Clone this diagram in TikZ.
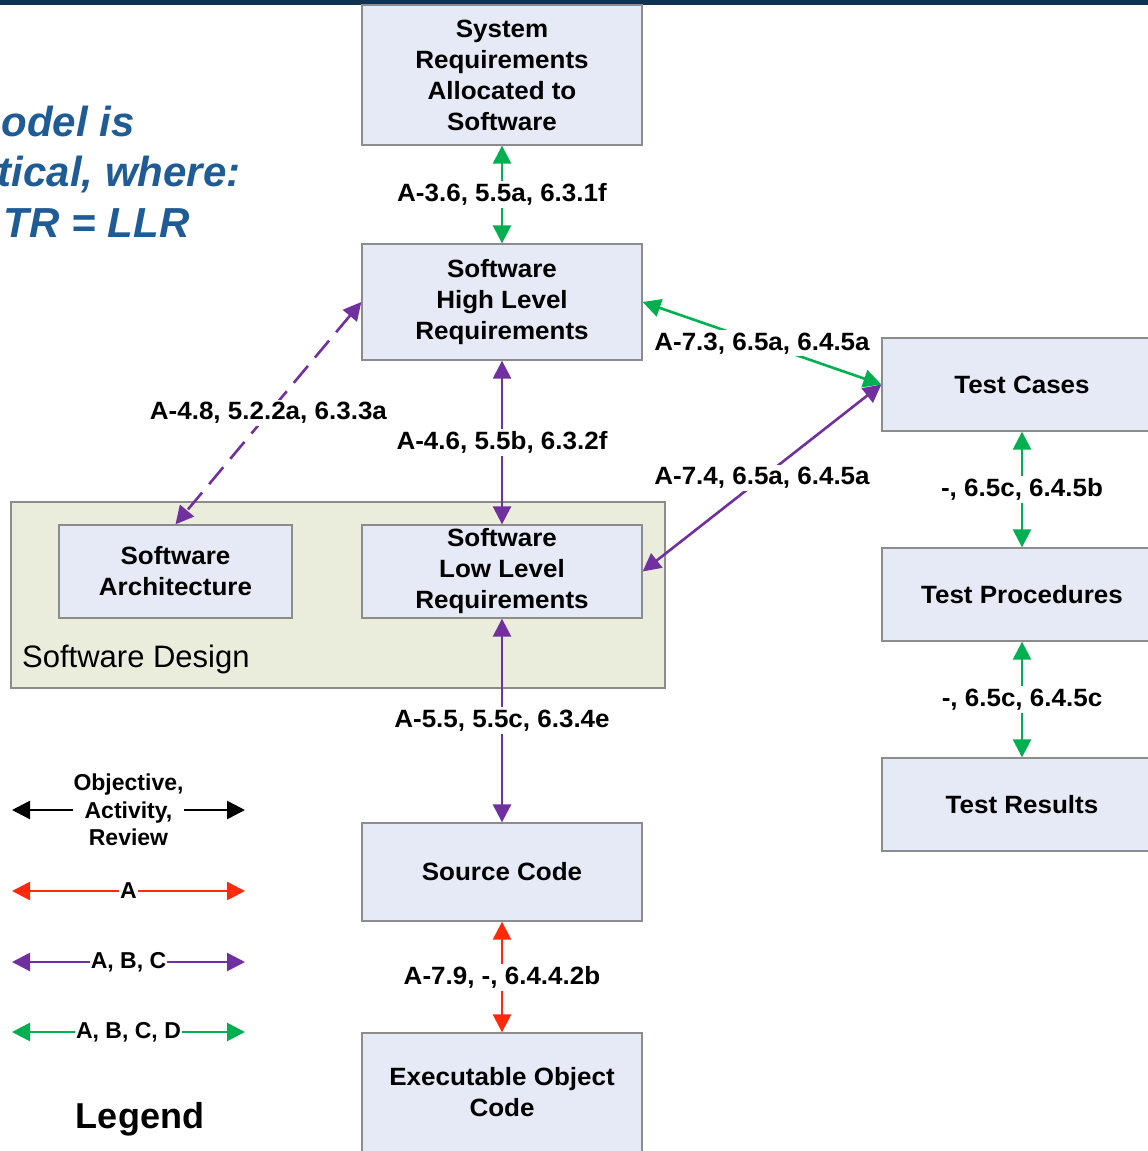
\documentclass[tikz,border=0pt]{standalone}
\usepackage{fontspec}
\setmainfont{Liberation Sans}
\newfontfamily\widebold{Liberation Sans}[FakeStretch=1.04]
\usetikzlibrary{arrows.meta}

\definecolor{navy}{HTML}{0E3250}
\definecolor{boxfill}{HTML}{E6EAF6}
\definecolor{boxline}{HTML}{8C8C8C}
\definecolor{designfill}{HTML}{EBEDDC}
\definecolor{ogreen}{HTML}{00B050}
\definecolor{opurple}{HTML}{7030A0}
\definecolor{ored}{HTML}{FF2A0A}
\definecolor{titleblue}{HTML}{1F5C96}

\begin{document}
\begin{tikzpicture}[x=1pt,y=-1pt,
  box/.style={draw=boxline, fill=boxfill, line width=1.3pt, minimum width=280pt,
    align=center, inner sep=0pt, font=\widebold\fontsize{25}{31}\bfseries\selectfont},
  lbl/.style={fill=white, text=black, inner sep=2.5pt,
    font=\widebold\fontsize{25}{29}\bfseries\selectfont},
  tipped/.style={line width=2.6pt,
    {Triangle[length=18pt,width=18pt]}-{Triangle[length=18pt,width=18pt]}},
  legtext/.style={fill=white, text=black, inner sep=1pt, align=center,
    font=\fontsize{23}{27.5}\bfseries\selectfont},
  bluetext/.style={anchor=base east, text=titleblue,
    font=\fontsize{42}{50}\bfseries\itshape\selectfont},
]
\clip (0,0) rectangle (1148,1151);
\fill[white] (0,0) rectangle (1148,1151);
\fill[navy] (0,0) rectangle (1148,4.5);

% heading text on the left
\node[bluetext] (h1) at (138,136) {odel is};
\node[bluetext] (h2) at (244,186.5) {tical, where:};
\node[bluetext] (h3) at (193,237.5) {TR = LLR};

% software design container
\node[draw=boxline, fill=designfill, line width=1.3pt, minimum width=654pt,
  minimum height=186pt] (design) at (338,595) {};
\node[anchor=west, inner sep=0pt, font=\fontsize{31}{34}\selectfont] (designlbl)
  at (22,659) {Software Design};

% main boxes
\node[box, minimum height=140pt] (sys) at (502,75) {System\\Requirements\\Allocated to\\Software};
\node[box, minimum height=116pt] (hlr) at (502,302) {Software\\High Level\\Requirements};
\node[box, minimum width=233pt, minimum height=93pt] (arch) at (175.5,571.5) {Software\\Architecture};
\node[box, minimum height=93pt] (llr) at (502,571.5) {Software\\Low Level\\Requirements};
\node[box, minimum height=98pt] (src) at (502,872) {Source Code};
\node[box, minimum height=119pt] (eoc) at (502,1092.5) {Executable Object\\Code};
\node[box, minimum height=93pt] (tc) at (1022,384.5) {Test Cases};
\node[box, minimum height=93pt] (tp) at (1022,594.5) {Test Procedures};
\node[box, minimum height=93pt] (tr) at (1022,804.5) {Test Results};

% connectors
\draw[tipped, ogreen] (sys) -- node[lbl] (l1) {A-3.6, 5.5a, 6.3.1f} (hlr);
\draw[tipped, opurple] (hlr) -- node[lbl] (l2) {A-4.6, 5.5b, 6.3.2f} (llr);
\draw[tipped, opurple] (llr) -- node[lbl] (l3) {A-5.5, 5.5c, 6.3.4e} (src);
\draw[tipped, ored] (src) -- node[lbl] (l4) {A-7.9, -, 6.4.4.2b} (eoc);
\draw[tipped, opurple, dash pattern=on 22pt off 11pt] (hlr.west) -- node[lbl] (l5) {A-4.8, 5.2.2a, 6.3.3a} (arch.north);
\draw[tipped, ogreen] (hlr.east) -- node[lbl] (l6) {A-7.3, 6.5a, 6.4.5a} (tc.west);
\draw[tipped, opurple] (llr.east) -- node[lbl] (l7) {A-7.4, 6.5a, 6.4.5a} (tc.west);
\draw[tipped, ogreen] (tc) -- node[lbl] (l8) {-, 6.5c, 6.4.5b} (tp);
\draw[tipped, ogreen] (tp) -- node[lbl] (l9) {-, 6.5c, 6.4.5c} (tr);

% legend
\coordinate (k1l) at (12,810);   \coordinate (k1r) at (245,810);
\coordinate (k2l) at (12,891);   \coordinate (k2r) at (245,891);
\coordinate (k3l) at (12,962);   \coordinate (k3r) at (245,962);
\coordinate (k4l) at (12,1032);  \coordinate (k4r) at (245,1032);
\draw[tipped, black] (k1l) -- node[legtext] (k1t) {Objective,\\Activity,\\Review} (k1r);
\draw[tipped, ored] (k2l) -- node[legtext] (k2t) {A} (k2r);
\draw[tipped, opurple] (k3l) -- node[legtext] (k3t) {A, B, C} (k3r);
\draw[tipped, ogreen] (k4l) -- node[legtext] (k4t) {A, B, C, D} (k4r);
\node[font=\fontsize{36}{40}\bfseries\selectfont] (legend) at (140,1119) {Legend};
\end{tikzpicture}
\end{document}
